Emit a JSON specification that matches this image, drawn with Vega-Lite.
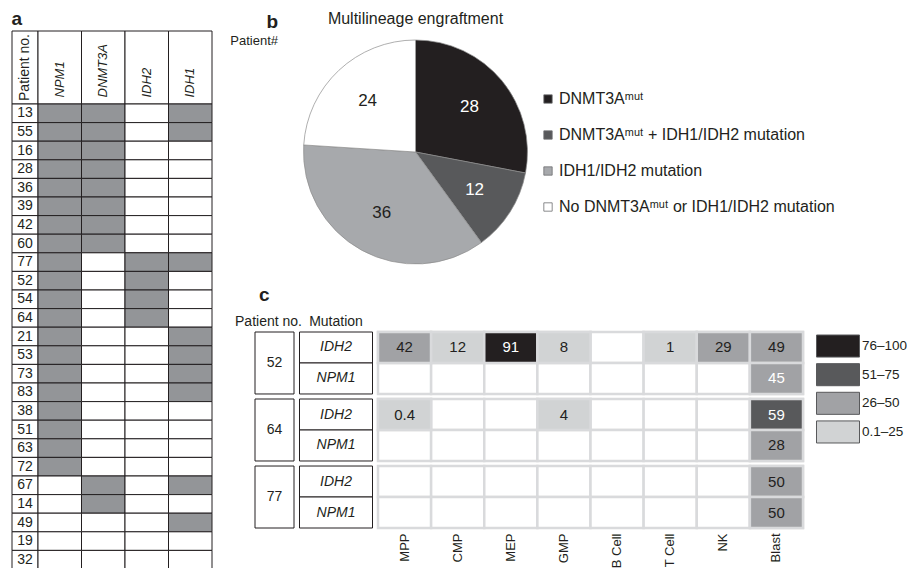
{
  "$schema": "https://vega.github.io/schema/vega-lite/v6.json",
  "background": "white",
  "padding": {"left": 11, "top": 9, "right": 0, "bottom": 0},
  "config": {
    "font": "Liberation Sans",
    "view": {"stroke": null},
    "title": {"color": "#231f20", "font": "Liberation Sans", "fontWeight": "normal"},
    "text": {"font": "Liberation Sans", "color": "#231f20"}
  },
  "resolve": {"scale": {"fill": "independent"}, "legend": {"fill": "independent"}},
  "datasets": {
    "tbl": [
      {"p": "13", "NPM1": 1, "DNMT3A": 1, "IDH2": 0, "IDH1": 1},
      {"p": "55", "NPM1": 1, "DNMT3A": 1, "IDH2": 0, "IDH1": 1},
      {"p": "16", "NPM1": 1, "DNMT3A": 1, "IDH2": 0, "IDH1": 0},
      {"p": "28", "NPM1": 1, "DNMT3A": 1, "IDH2": 0, "IDH1": 0},
      {"p": "36", "NPM1": 1, "DNMT3A": 1, "IDH2": 0, "IDH1": 0},
      {"p": "39", "NPM1": 1, "DNMT3A": 1, "IDH2": 0, "IDH1": 0},
      {"p": "42", "NPM1": 1, "DNMT3A": 1, "IDH2": 0, "IDH1": 0},
      {"p": "60", "NPM1": 1, "DNMT3A": 1, "IDH2": 0, "IDH1": 0},
      {"p": "77", "NPM1": 1, "DNMT3A": 0, "IDH2": 1, "IDH1": 1},
      {"p": "52", "NPM1": 1, "DNMT3A": 0, "IDH2": 1, "IDH1": 0},
      {"p": "54", "NPM1": 1, "DNMT3A": 0, "IDH2": 1, "IDH1": 0},
      {"p": "64", "NPM1": 1, "DNMT3A": 0, "IDH2": 1, "IDH1": 0},
      {"p": "21", "NPM1": 1, "DNMT3A": 0, "IDH2": 0, "IDH1": 1},
      {"p": "53", "NPM1": 1, "DNMT3A": 0, "IDH2": 0, "IDH1": 1},
      {"p": "73", "NPM1": 1, "DNMT3A": 0, "IDH2": 0, "IDH1": 1},
      {"p": "83", "NPM1": 1, "DNMT3A": 0, "IDH2": 0, "IDH1": 1},
      {"p": "38", "NPM1": 1, "DNMT3A": 0, "IDH2": 0, "IDH1": 0},
      {"p": "51", "NPM1": 1, "DNMT3A": 0, "IDH2": 0, "IDH1": 0},
      {"p": "63", "NPM1": 1, "DNMT3A": 0, "IDH2": 0, "IDH1": 0},
      {"p": "72", "NPM1": 1, "DNMT3A": 0, "IDH2": 0, "IDH1": 0},
      {"p": "67", "NPM1": 0, "DNMT3A": 1, "IDH2": 0, "IDH1": 1},
      {"p": "14", "NPM1": 0, "DNMT3A": 1, "IDH2": 0, "IDH1": 0},
      {"p": "49", "NPM1": 0, "DNMT3A": 0, "IDH2": 0, "IDH1": 1},
      {"p": "19", "NPM1": 0, "DNMT3A": 0, "IDH2": 0, "IDH1": 0},
      {"p": "32", "NPM1": 0, "DNMT3A": 0, "IDH2": 0, "IDH1": 0}
    ],
    "hgrid": [
      {"p": "52", "m": "IDH2"}, {"p": "52", "m": "NPM1"},
      {"p": "64", "m": "IDH2"}, {"p": "64", "m": "NPM1"},
      {"p": "77", "m": "IDH2"}, {"p": "77", "m": "NPM1"}
    ],
    "hcells": [
      {"p": "52", "m": "IDH2", "cell": "MPP", "v": 42, "r": "26–50"},
      {"p": "52", "m": "IDH2", "cell": "CMP", "v": 12, "r": "0.1–25"},
      {"p": "52", "m": "IDH2", "cell": "MEP", "v": 91, "r": "76–100"},
      {"p": "52", "m": "IDH2", "cell": "GMP", "v": 8, "r": "0.1–25"},
      {"p": "52", "m": "IDH2", "cell": "T Cell", "v": 1, "r": "0.1–25"},
      {"p": "52", "m": "IDH2", "cell": "NK", "v": 29, "r": "26–50"},
      {"p": "52", "m": "IDH2", "cell": "Blast", "v": 49, "r": "26–50"},
      {"p": "52", "m": "NPM1", "cell": "Blast", "v": 45, "r": "26–50"},
      {"p": "64", "m": "IDH2", "cell": "MPP", "v": 0.4, "r": "0.1–25"},
      {"p": "64", "m": "IDH2", "cell": "GMP", "v": 4, "r": "0.1–25"},
      {"p": "64", "m": "IDH2", "cell": "Blast", "v": 59, "r": "51–75"},
      {"p": "64", "m": "NPM1", "cell": "Blast", "v": 28, "r": "26–50"},
      {"p": "77", "m": "IDH2", "cell": "Blast", "v": 50, "r": "26–50"},
      {"p": "77", "m": "NPM1", "cell": "Blast", "v": 50, "r": "26–50"}
    ],
    "ranges": [{"r": "76–100"}, {"r": "51–75"}, {"r": "26–50"}, {"r": "0.1–25"}]
  },
  "spacing": 17,
  "hconcat": [
    {
      "title": {"text": "a", "anchor": "start", "fontSize": 19, "fontWeight": "bold", "offset": 2},
      "columns": 2,
      "spacing": 0,
      "align": "each",
      "bounds": "flush",
      "concat": [
        {
          "width": 26, "height": 73,
          "data": {"values": [{"h": "Patient no."}]},
          "layer": [
            {"mark": {"type": "rect", "fill": "white", "stroke": "#231f20", "strokeWidth": 1}, "encoding": {}},
            {"mark": {"type": "text", "angle": 270, "fontSize": 14}, "encoding": {"text": {"field": "h"}}}
          ]
        },
        {
          "width": 174, "height": 73,
          "data": {"values": [{"g": "NPM1"}, {"g": "DNMT3A"}, {"g": "IDH2"}, {"g": "IDH1"}]},
          "encoding": {"x": {"field": "g", "type": "nominal", "sort": null, "axis": null, "scale": {"paddingInner": 0, "paddingOuter": 0}}},
          "layer": [
            {"mark": {"type": "rect", "fill": "white", "stroke": "#231f20", "strokeWidth": 1}},
            {"mark": {"type": "text", "angle": 270, "align": "left", "baseline": "middle", "dx": -30, "fontSize": 13, "fontStyle": "italic"}, "encoding": {"text": {"field": "g"}}}
          ]
        },
        {
          "width": 26, "height": 465,
          "data": {"name": "tbl"},
          "encoding": {"y": {"field": "p", "type": "nominal", "sort": null, "axis": null, "scale": {"paddingInner": 0, "paddingOuter": 0}}},
          "layer": [
            {"mark": {"type": "rect", "fill": "white", "stroke": "#231f20", "strokeWidth": 1}},
            {"mark": {"type": "text", "fontSize": 14}, "encoding": {"text": {"field": "p"}}}
          ]
        },
        {
          "width": 174, "height": 465,
          "data": {"name": "tbl"},
          "transform": [{"fold": ["NPM1", "DNMT3A", "IDH2", "IDH1"], "as": ["g", "mut"]}],
          "mark": {"type": "rect", "stroke": "#231f20", "strokeWidth": 1},
          "encoding": {
            "x": {"field": "g", "type": "nominal", "sort": ["NPM1", "DNMT3A", "IDH2", "IDH1"], "axis": null, "scale": {"paddingInner": 0, "paddingOuter": 0}},
            "y": {"field": "p", "type": "nominal", "sort": null, "axis": null, "scale": {"paddingInner": 0, "paddingOuter": 0}},
            "fill": {"condition": {"test": "datum.mut == 1", "value": "#939598"}, "value": "#ffffff"}
          }
        }
      ]
    },
    {
      "title": {"text": "b", "subtitle": "Patient#", "anchor": "start", "align": "right", "dx": 43, "offset": -37.5, "fontSize": 19, "fontWeight": "bold", "subtitleFontSize": 13, "subtitlePadding": 3, "subtitleColor": "#231f20", "subtitleFont": "Liberation Sans"},
      "spacing": 12,
      "resolve": {"scale": {"fill": "independent"}, "legend": {"fill": "independent"}},
      "vconcat": [
        {
          "width": 321, "height": 242,
          "title": {"text": "Multilineage engraftment", "anchor": "middle", "fontSize": 16, "offset": 4.5},
          "data": {"values": [
            {"cat": "DNMT3Aᵐᵘᵗ", "n": 28},
            {"cat": "DNMT3Aᵐᵘᵗ + IDH1/IDH2 mutation", "n": 12},
            {"cat": "IDH1/IDH2 mutation", "n": 36},
            {"cat": "No DNMT3Aᵐᵘᵗ or IDH1/IDH2 mutation", "n": 24}
          ]},
          "transform": [{"window": [{"op": "row_number", "as": "i"}]}],
          "encoding": {
            "theta": {"field": "n", "type": "quantitative", "stack": true},
            "order": {"field": "i", "type": "quantitative"}
          },
          "layer": [
            {
              "mark": {"type": "arc", "outerRadius": 112, "stroke": "#8c8c8c", "strokeWidth": 0.7},
              "encoding": {
                "fill": {
                  "field": "cat", "type": "nominal", "sort": null,
                  "scale": {
                    "domain": ["DNMT3Aᵐᵘᵗ", "DNMT3Aᵐᵘᵗ + IDH1/IDH2 mutation", "IDH1/IDH2 mutation", "No DNMT3Aᵐᵘᵗ or IDH1/IDH2 mutation"],
                    "range": ["#231f20", "#58595b", "#a7a9ac", "#ffffff"]
                  },
                  "legend": {
                    "orient": "none", "legendX": 285, "legendY": 60, "title": null,
                    "symbolType": "square", "symbolSize": 70, "symbolStrokeColor": "#6d6e71", "symbolStrokeWidth": 0.8,
                    "labelFontSize": 16, "labelColor": "#231f20", "labelFont": "Liberation Sans", "labelLimit": 400,
                    "rowPadding": 20, "labelOffset": 3, "padding": 0
                  }
                }
              }
            },
            {
              "mark": {"type": "text", "radius": 70, "fontSize": 17},
              "encoding": {
                "text": {"field": "n", "type": "quantitative"},
                "fill": {"condition": {"test": "datum.i <= 2", "value": "#ffffff"}, "value": "#231f20"}
              }
            }
          ]
        },
        {
          "title": {"text": "c", "anchor": "start", "dx": 24, "fontSize": 19, "fontWeight": "bold", "offset": 10},
          "spacing": 10.5,
          "hconcat": [
            {
              "spacing": 5.5,
              "bounds": "flush",
              "hconcat": [
                {
                  "width": 39, "height": 196,
                  "title": {"text": "Patient no.", "anchor": "middle", "dx": -6, "fontSize": 14, "offset": 3},
                  "data": {"values": [{"p": "52"}, {"p": "64"}, {"p": "77"}]},
                  "encoding": {"y": {"field": "p", "type": "nominal", "sort": null, "axis": null, "scale": {"paddingInner": 0.075, "paddingOuter": 0}}},
                  "layer": [
                    {"mark": {"type": "rect", "fill": "white", "stroke": "#231f20", "strokeWidth": 1}},
                    {"mark": {"type": "text", "fontSize": 14}, "encoding": {"text": {"field": "p"}}}
                  ]
                },
                {
                  "width": 73, "height": 196,
                  "title": {"text": "Mutation", "anchor": "middle", "fontSize": 14, "offset": 3},
                  "data": {"name": "hgrid"},
                  "encoding": {
                    "y": {"field": "p", "type": "nominal", "sort": null, "axis": null, "scale": {"paddingInner": 0.075, "paddingOuter": 0}},
                    "yOffset": {"field": "m", "type": "nominal", "sort": null, "scale": {"paddingInner": 0, "paddingOuter": 0}}
                  },
                  "layer": [
                    {"mark": {"type": "rect", "fill": "white", "stroke": "#231f20", "strokeWidth": 1}},
                    {"mark": {"type": "text", "fontSize": 14, "fontStyle": "italic"}, "encoding": {"text": {"field": "m"}}}
                  ]
                },
                {
                  "width": 425, "height": 196,
                  "encoding": {
                    "x": {"field": "cell", "type": "nominal",
                      "scale": {"domain": ["MPP", "CMP", "MEP", "GMP", "B Cell", "T Cell", "NK", "Blast"], "paddingInner": 0, "paddingOuter": 0},
                      "axis": {"title": null, "orient": "bottom", "labelAngle": -90, "labelFontSize": 13, "labelPadding": 5, "ticks": false, "domain": false, "labelColor": "#231f20", "labelFont": "Liberation Sans"}},
                    "y": {"field": "p", "type": "nominal", "axis": null, "scale": {"domain": ["52", "64", "77"], "paddingInner": 0.075, "paddingOuter": 0}},
                    "yOffset": {"field": "m", "type": "nominal", "scale": {"domain": ["IDH2", "NPM1"], "paddingInner": 0, "paddingOuter": 0}}
                  },
                  "layer": [
                    {
                      "data": {"name": "hgrid"},
                      "transform": [{"fold": ["MPP", "CMP", "MEP", "GMP", "B Cell", "T Cell", "NK", "Blast"], "as": ["cell", "z"]}],
                      "mark": {"type": "rect", "fill": "white", "stroke": "#d9dadc", "strokeWidth": 2.5}
                    },
                    {
                      "data": {"name": "hcells"},
                      "mark": {"type": "rect", "stroke": "#d9dadc", "strokeWidth": 2.5},
                      "encoding": {
                        "fill": {"field": "r", "type": "nominal", "legend": null,
                          "scale": {"domain": ["76–100", "51–75", "26–50", "0.1–25"], "range": ["#231f20", "#58595b", "#a1a2a5", "#d1d3d4"]}}
                      }
                    },
                    {
                      "data": {"name": "hcells"},
                      "mark": {"type": "text", "fontSize": 15},
                      "encoding": {
                        "text": {"field": "v", "type": "quantitative"},
                        "fill": {"condition": {"test": "datum.v > 50 || datum.v == 45", "value": "#ffffff"}, "value": "#231f20"}
                      }
                    }
                  ]
                }
              ]
            },
            {
              "width": 43, "height": 114,
              "data": {"name": "ranges"},
              "mark": {"type": "rect", "stroke": "#58595b", "strokeWidth": 1},
              "encoding": {
                "y": {"field": "r", "type": "nominal", "sort": null,
                  "scale": {"paddingInner": 0.23, "paddingOuter": 0.105},
                  "axis": {"orient": "right", "title": null, "ticks": false, "domain": false, "labelPadding": 2, "labelFontSize": 13.5, "labelColor": "#231f20", "labelFont": "Liberation Sans"}},
                "fill": {"field": "r", "type": "nominal", "legend": null,
                  "scale": {"domain": ["76–100", "51–75", "26–50", "0.1–25"], "range": ["#231f20", "#58595b", "#a1a2a5", "#d1d3d4"]}}
              }
            }
          ]
        }
      ]
    }
  ]
}
